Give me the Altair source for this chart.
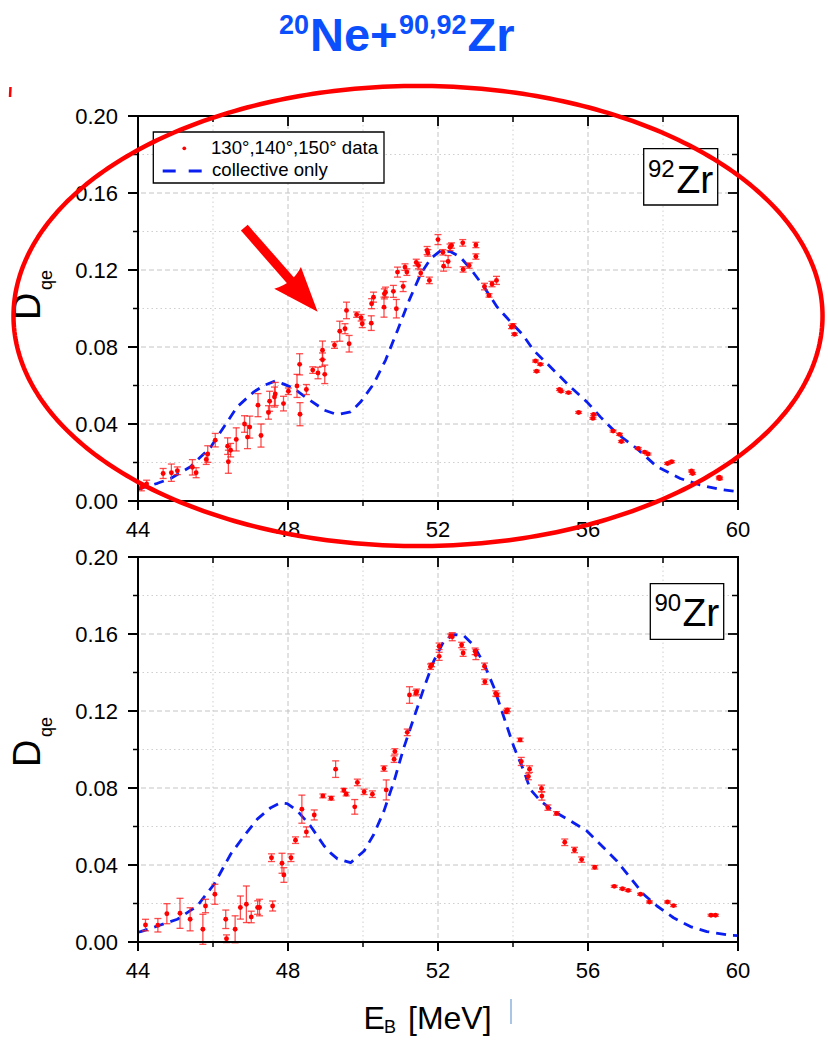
import numpy as np
import pandas as pd
import altair as alt

FONT = "Liberation Sans"
W, H = 600, 385
RED = "#ff0000"
BLUE = "#0a1ef0"
TITLE_BLUE = "#0b4ffc"

# ---------------- data: 92Zr (top panel) ----------------
top_x = [44.09, 44.23, 44.67, 44.89, 45.05, 45.45, 45.55, 45.82, 45.86, 46.06, 46.39, 46.41, 46.47, 46.62,
         46.84, 46.92, 46.98, 47.20, 47.28, 47.48, 47.51, 47.64, 47.66, 47.88, 48.01, 48.24, 48.31, 48.32,
         48.49, 48.66, 48.80, 48.92, 48.92, 48.98, 49.24, 49.38, 49.52, 49.56, 49.63, 49.83, 49.95, 49.98,
         50.22, 50.23, 50.28, 50.56, 50.57, 50.60, 50.81, 50.89, 50.92, 51.07, 51.12, 51.17, 51.42, 51.48,
         51.54, 51.71, 51.73, 51.77, 52.00, 52.13, 52.15, 52.27, 52.32, 52.36, 52.66, 52.67, 52.83, 53.01,
         53.01, 53.24, 53.36, 53.44, 53.56, 53.96, 54.00, 54.04, 54.60, 54.63, 54.73, 55.24, 55.28, 55.48,
         55.75, 56.13, 56.15, 56.67, 56.84, 56.89, 57.34, 57.51, 57.60, 58.12, 58.23, 58.76, 58.79, 59.50, 59.51]
top_y = [0.0070, 0.0088, 0.0143, 0.0147, 0.0157, 0.0175, 0.0147, 0.0216, 0.0244, 0.0316, 0.0285, 0.0204, 0.0264, 0.0320,
         0.0400, 0.0332, 0.0384, 0.0498, 0.0340, 0.0460, 0.0518, 0.0540, 0.0556, 0.0506, 0.0570, 0.0598, 0.0710, 0.0451,
         0.0579, 0.0680, 0.0665, 0.0783, 0.0734, 0.0658, 0.0810, 0.0882, 0.0895, 0.0990, 0.0817, 0.0968, 0.0952, 0.0921,
         0.0924, 0.1025, 0.1059, 0.1007, 0.1076, 0.1085, 0.1089, 0.0999, 0.1189, 0.1114, 0.1215, 0.1189, 0.1239, 0.1223,
         0.1184, 0.1301, 0.1289, 0.1146, 0.1358, 0.1292, 0.1220, 0.1244, 0.1318, 0.1327, 0.1341, 0.1203, 0.1223, 0.1330,
         0.1270, 0.1114, 0.1068, 0.1127, 0.1146, 0.0904, 0.0912, 0.0866, 0.0727, 0.0674, 0.0710, 0.0579, 0.0570, 0.0563,
         0.0460, 0.0429, 0.0449, 0.0363, 0.0346, 0.0309, 0.0273, 0.0254, 0.0244, 0.0195, 0.0204, 0.0156, 0.0143, 0.0123, 0.0116]
top_err = [0.0017, 0.0020, 0.0026, 0.0045, 0.0020, 0.0040, 0.0026, 0.0026, 0.0043, 0.0035, 0.0043, 0.0060, 0.0035, 0.0060,
           0.0043, 0.0060, 0.0057, 0.0060, 0.0060, 0.0035, 0.0052, 0.0052, 0.0060, 0.0038, 0.0017, 0.0060, 0.0055, 0.0060,
           0.0026, 0.0017, 0.0030, 0.0048, 0.0035, 0.0048, 0.0017, 0.0052, 0.0026, 0.0043, 0.0043, 0.0014, 0.0017, 0.0020,
           0.0038, 0.0026, 0.0026, 0.0052, 0.0026, 0.0026, 0.0031, 0.0048, 0.0026, 0.0026, 0.0017, 0.0017, 0.0017, 0.0017,
           0.0017, 0.0021, 0.0017, 0.0017, 0.0026, 0.0014, 0.0026, 0.0031, 0.0017, 0.0014, 0.0017, 0.0014, 0.0014, 0.0014,
           0.0014, 0.0017, 0.0009, 0.0014, 0.0021, 0.0009, 0.0009, 0.0006, 0.0005, 0.0005, 0.0005, 0.0005, 0.0005, 0.0005,
           0.0005, 0.0005, 0.0005, 0.0005, 0.0005, 0.0005, 0.0005, 0.0005, 0.0005, 0.0005, 0.0005, 0.0005, 0.0005, 0.0005, 0.0005]
top_curve_x = [44.0, 44.07, 44.52, 44.87, 45.4, 45.94, 46.29, 46.65, 47.09, 47.36, 47.67, 47.89, 48.16, 48.52, 48.97,
               49.23, 49.4, 49.67, 49.94, 50.29, 50.6, 50.92, 51.23, 51.54, 51.8, 52.07, 52.34, 52.6, 52.87, 53.23,
               53.58, 53.94, 54.25, 54.55, 55.0, 55.53, 55.97, 56.33, 56.77, 57.3, 57.84, 58.46, 58.99, 59.53, 60.0]
top_curve_y = [0.0062, 0.0066, 0.0092, 0.0117, 0.0178, 0.0280, 0.0385, 0.0490, 0.0567, 0.0600, 0.0624, 0.0607, 0.0584,
               0.0532, 0.0472, 0.0454, 0.0452, 0.0463, 0.0515, 0.0610, 0.0731, 0.0886, 0.1042, 0.1180, 0.1258, 0.1301,
               0.1295, 0.1266, 0.1206, 0.1111, 0.1007, 0.0930, 0.0866, 0.0783, 0.0696, 0.0593, 0.0515, 0.0437, 0.0351,
               0.0273, 0.0178, 0.0117, 0.0083, 0.0060, 0.0048]

# ---------------- data: 90Zr (bottom panel) ----------------
bot_x = [44.20, 44.53, 44.77, 45.12, 45.39, 45.73, 45.80, 46.05, 46.34, 46.36, 46.59, 46.73, 46.89, 47.02, 47.19,
         47.24, 47.56, 47.59, 47.84, 47.89, 48.08, 48.20, 48.37, 48.49, 48.70, 48.93, 49.15, 49.27, 49.49, 49.55,
         49.78, 49.85, 50.03, 50.25, 50.56, 50.62, 50.83, 50.85, 51.18, 51.24, 51.41, 51.43, 51.80, 51.83, 52.03,
         52.03, 52.34, 52.38, 52.63, 52.67, 52.99, 53.01, 53.24, 53.25, 53.54, 53.57, 53.82, 53.85, 54.19, 54.22,
         54.41, 54.44, 54.76, 54.77, 54.93, 55.16, 55.38, 55.64, 55.83, 56.18, 56.70, 56.92, 57.07, 57.40, 57.64,
         58.12, 58.28, 59.28, 59.40]
bot_y = [0.0088, 0.0087, 0.0147, 0.0149, 0.0118, 0.0066, 0.0187, 0.0248, 0.0118, 0.0017, 0.0066, 0.0179, 0.0196, 0.0130, 0.0179,
         0.0179, 0.0438, 0.0187, 0.0409, 0.0348, 0.0438, 0.0529, 0.0690, 0.0572, 0.0660, 0.0759, 0.0747, 0.0898, 0.0789, 0.0768,
         0.0702, 0.0829, 0.0780, 0.0768, 0.0901, 0.0790, 0.0950, 0.0990, 0.1089, 0.1283, 0.1293, 0.1300, 0.1430, 0.1439, 0.1536,
         0.1484, 0.1591, 0.1586, 0.1543, 0.1501, 0.1510, 0.1493, 0.1432, 0.1352, 0.1291, 0.1284, 0.1196, 0.1205, 0.1050, 0.0938,
         0.0860, 0.0898, 0.0798, 0.0758, 0.0698, 0.0668, 0.0518, 0.0478, 0.0428, 0.0388, 0.0289, 0.0277, 0.0268, 0.0248, 0.0208,
         0.0208, 0.0189, 0.0139, 0.0139]
bot_err = [0.0030, 0.0035, 0.0052, 0.0078, 0.0060, 0.0078, 0.0035, 0.0052, 0.0048, 0.0020, 0.0070, 0.0060, 0.0095, 0.0030, 0.0035,
           0.0043, 0.0020, 0.0026, 0.0052, 0.0038, 0.0020, 0.0017, 0.0073, 0.0026, 0.0026, 0.0010, 0.0010, 0.0043, 0.0009, 0.0009,
           0.0038, 0.0017, 0.0014, 0.0017, 0.0014, 0.0052, 0.0017, 0.0014, 0.0017, 0.0043, 0.0014, 0.0014, 0.0014, 0.0009, 0.0017,
           0.0021, 0.0009, 0.0021, 0.0014, 0.0017, 0.0017, 0.0026, 0.0017, 0.0014, 0.0014, 0.0009, 0.0009, 0.0009, 0.0009, 0.0021,
           0.0017, 0.0017, 0.0017, 0.0021, 0.0014, 0.0009, 0.0017, 0.0014, 0.0014, 0.0009, 0.0005, 0.0005, 0.0005, 0.0005, 0.0005,
           0.0005, 0.0005, 0.0005, 0.0005]
bot_curve_x = [44.0, 44.07, 44.52, 45.05, 45.58, 46.03, 46.47, 46.83, 47.18, 47.54, 47.8, 47.98, 48.25, 48.6, 48.96,
               49.14, 49.32, 49.67, 50.03, 50.29, 50.56, 50.83, 51.09, 51.36, 51.63, 51.89, 52.16, 52.43, 52.69, 52.96,
               53.23, 53.49, 53.76, 54.03, 54.29, 54.46, 54.73, 55.08, 55.53, 55.97, 56.42, 56.77, 57.13, 57.48, 57.84,
               58.28, 58.73, 59.17, 59.8, 60.0]
bot_curve_y = [0.0052, 0.0054, 0.0083, 0.0118, 0.0187, 0.0300, 0.0456, 0.0551, 0.0638, 0.0698, 0.0723, 0.0719, 0.0681,
               0.0603, 0.0500, 0.0462, 0.0432, 0.0412, 0.0473, 0.0560, 0.0681, 0.0837, 0.1010, 0.1166, 0.1323, 0.1461,
               0.1565, 0.1597, 0.1591, 0.1539, 0.1444, 0.1323, 0.1166, 0.1010, 0.0889, 0.0793, 0.0733, 0.0680, 0.0629,
               0.0577, 0.0490, 0.0421, 0.0334, 0.0248, 0.0187, 0.0126, 0.0080, 0.0054, 0.0035, 0.0033]

# ticks / grid
X_MAJOR = [44, 48, 52, 56, 60]
X_LABELS = ["44", "48", "52", "56", "60"]
X_MINOR = [46, 50, 54, 58]
Y_MAJOR = [0.0, 0.04, 0.08, 0.12, 0.16, 0.20]
Y_LABELS = ["0.00", "0.04", "0.08", "0.12", "0.16", "0.20"]
Y_MINOR = [0.02, 0.06, 0.10, 0.14, 0.18]

# annotations (data units)
ELLIPSE_CENTER = (51.467, 0.0961)
ELLIPSE_RADII = (10.787, 0.1195)
ARROW_SHAFT_X = [46.835, 48.08]
ARROW_SHAFT_Y = [0.1420, 0.1143]
ARROW_TIP = (48.79, 0.0983)

xs = alt.Scale(domain=[44, 60], nice=False, zero=False)
ys = alt.Scale(domain=[0, 0.2], nice=False, zero=False)


def XQ(field="x"):
    return alt.X(f"{field}:Q", scale=xs, axis=None)


def YQ(field="y"):
    return alt.Y(f"{field}:Q", scale=ys, axis=None)


def one():
    return pd.DataFrame({"a": [0]})


def txt(s, x, y, size, color="black", weight="normal", angle=0, align="left"):
    return alt.Chart(one()).mark_text(
        text=s, font=FONT, fontSize=size, color=color, fontWeight=weight,
        angle=angle, align=align, baseline="alphabetic"
    ).encode(x=alt.value(x), y=alt.value(y))


def rule_px(x1, y1, x2, y2, color, width, dash=None):
    kw = dict(color=color, strokeWidth=width)
    if dash is not None:
        kw["strokeDash"] = dash
    return alt.Chart(one()).mark_rule(**kw).encode(
        x=alt.value(x1), x2=alt.value(x2), y=alt.value(y1), y2=alt.value(y2))


def rect_px(x1, y1, x2, y2, sw=1.3, fill="white", fill_opacity=1.0):
    return alt.Chart(one()).mark_rect(
        fill=fill, fillOpacity=fill_opacity, stroke="black", strokeWidth=sw
    ).encode(x=alt.value(x1), x2=alt.value(x2), y=alt.value(y1), y2=alt.value(y2))


def panel(px, py, pe, cx, cy, extras):
    layers = []
    # grid
    layers.append(alt.Chart(pd.DataFrame({"x": X_MINOR})).mark_rule(
        color="#cfcfcf", strokeWidth=1, strokeDash=[1.5, 3]).encode(x=XQ()))
    layers.append(alt.Chart(pd.DataFrame({"x": X_MAJOR[1:-1]})).mark_rule(
        color="#c4c4c4", strokeWidth=1, strokeDash=[5, 3]).encode(x=XQ()))
    layers.append(alt.Chart(pd.DataFrame({"y": Y_MINOR})).mark_rule(
        color="#cfcfcf", strokeWidth=1, strokeDash=[1.5, 3]).encode(y=YQ()))
    layers.append(alt.Chart(pd.DataFrame({"y": Y_MAJOR[1:-1]})).mark_rule(
        color="#c4c4c4", strokeWidth=1, strokeDash=[5, 3]).encode(y=YQ()))
    # tick labels (through the scales)
    layers.append(alt.Chart(pd.DataFrame({"x": X_MAJOR, "t": X_LABELS})).mark_text(
        font=FONT, fontSize=22, color="black", align="center", baseline="alphabetic").encode(
        x=XQ(), y=alt.value(H + 36), text="t:N"))
    layers.append(alt.Chart(pd.DataFrame({"y": Y_MAJOR, "t": Y_LABELS})).mark_text(
        font=FONT, fontSize=22, color="black", align="right", baseline="alphabetic", dy=7.8).encode(
        y=YQ(), x=alt.value(-20), text="t:N"))
    # outward ticks (left, bottom)
    layers.append(alt.Chart(pd.DataFrame({"y": Y_MAJOR})).mark_rule(color="black", strokeWidth=2).encode(
        y=YQ(), x=alt.value(-10), x2=alt.value(0)))
    layers.append(alt.Chart(pd.DataFrame({"y": Y_MINOR})).mark_rule(color="black", strokeWidth=1.5).encode(
        y=YQ(), x=alt.value(-5), x2=alt.value(0)))
    layers.append(alt.Chart(pd.DataFrame({"x": X_MAJOR})).mark_rule(color="black", strokeWidth=2).encode(
        x=XQ(), y=alt.value(H), y2=alt.value(H + 9)))
    layers.append(alt.Chart(pd.DataFrame({"x": X_MINOR})).mark_rule(color="black", strokeWidth=1.5).encode(
        x=XQ(), y=alt.value(H), y2=alt.value(H + 5)))
    # inward ticks (right, top)
    layers.append(alt.Chart(pd.DataFrame({"y": Y_MAJOR})).mark_rule(color="black", strokeWidth=1.8).encode(
        y=YQ(), x=alt.value(W - 10), x2=alt.value(W)))
    layers.append(alt.Chart(pd.DataFrame({"y": Y_MINOR})).mark_rule(color="black", strokeWidth=1.5).encode(
        y=YQ(), x=alt.value(W - 6), x2=alt.value(W)))
    layers.append(alt.Chart(pd.DataFrame({"x": X_MAJOR})).mark_rule(color="black", strokeWidth=1.8).encode(
        x=XQ(), y=alt.value(0), y2=alt.value(10)))
    layers.append(alt.Chart(pd.DataFrame({"x": X_MINOR})).mark_rule(color="black", strokeWidth=1.5).encode(
        x=XQ(), y=alt.value(0), y2=alt.value(6)))
    # collective only curve
    layers.append(alt.Chart(pd.DataFrame({"x": cx, "y": cy})).mark_line(
        color=BLUE, strokeWidth=2.8, strokeDash=[10, 7], strokeJoin="round").encode(x=XQ(), y=YQ()))
    # data with error bars
    d = pd.DataFrame({"x": px, "y": py, "e": pe})
    d["lo"] = d["y"] - d["e"]
    d["hi"] = d["y"] + d["e"]
    caps = pd.concat([pd.DataFrame({"x": d["x"], "c": d["lo"]}), pd.DataFrame({"x": d["x"], "c": d["hi"]})])
    layers.append(alt.Chart(d).mark_rule(color="#ff2020", strokeWidth=1.3, opacity=0.8).encode(
        x=XQ(), y=YQ("lo"), y2="hi:Q"))
    layers.append(alt.Chart(caps).mark_tick(orient="horizontal", size=7, thickness=1.3,
                                            color="#ff2020", opacity=0.8).encode(x=XQ(), y=YQ("c")))
    layers.append(alt.Chart(d).mark_circle(size=24, color=RED, opacity=1).encode(x=XQ(), y=YQ()))
    # frame
    layers.append(rect_px(0, 0, W, H, sw=2, fill="white", fill_opacity=0))
    layers.extend(extras)
    return alt.layer(*layers).properties(width=W, height=H)


# ---------- top panel extras ----------
t = np.linspace(0, 2 * np.pi, 361)
ell = pd.DataFrame({
    "x": ELLIPSE_CENTER[0] + ELLIPSE_RADII[0] * np.cos(t),
    "y": ELLIPSE_CENTER[1] + ELLIPSE_RADII[1] * np.sin(t),
    "i": np.arange(len(t)),
})
arrow_head = "M0,0 L-0.868,-0.46 Q-0.5,-0.56 -0.334,-0.894 Z"

top_extras = [
    # anchor: fixes page origin
    rule_px(-137, -115, -137, -114, "white", 0.01),
    # legend
    rect_px(15.3, 16, 246, 67, sw=1.3),
    alt.Chart(one()).mark_circle(size=14, color=RED, opacity=1).encode(x=alt.value(46.3), y=alt.value(32.3)),
    rule_px(24.7, 55, 66.3, 55, BLUE, 3, dash=[13, 13]),
    txt("130°,140°,150° data", 73, 38.3, 18.6),
    txt("collective only", 74, 60, 18.6),
    # 92Zr label
    rect_px(505.7, 32.7, 579.7, 89, sw=1.3),
    txt("92", 510, 61, 24),
    txt("Zr", 538.5, 77, 39),
    # y title
    txt("D", -98, 204, 38, angle=270),
    txt("qe", -86, 174, 18, angle=270),
    # title
    txt("20", 141, -82, 27, color=TITLE_BLUE, weight="bold"),
    txt("Ne+", 172, -65, 47, color=TITLE_BLUE, weight="bold"),
    txt("90,92", 261, -82, 27, color=TITLE_BLUE, weight="bold"),
    txt("Zr", 329.5, -65, 47, color=TITLE_BLUE, weight="bold"),
    # stray red mark at top-left
    rule_px(-127.5, -29, -128, -19, RED, 2.5),
    # ellipse
    alt.Chart(ell).mark_line(color=RED, strokeWidth=4.5, strokeJoin="round", clip=False).encode(
        x=XQ(), y=YQ(), order="i:Q"),
    # arrow
    alt.Chart(pd.DataFrame({"x": ARROW_SHAFT_X, "y": ARROW_SHAFT_Y})).mark_line(
        color=RED, strokeWidth=9, strokeCap="butt", strokeJoin="round", clip=False).encode(x=XQ(), y=YQ()),
    alt.Chart(pd.DataFrame({"x": [ARROW_TIP[0]], "y": [ARROW_TIP[1]]})).mark_point(
        shape=arrow_head, size=10000, filled=True, fill=RED, strokeWidth=0, opacity=1, clip=False).encode(
        x=XQ(), y=YQ()),
]

bot_extras = [
    rect_px(512.3, 26.7, 585.7, 82.3, sw=1.3),
    txt("90", 516.5, 54, 24),
    txt("Zr", 544.5, 69, 39),
    txt("D", -98, 210, 38, angle=270),
    txt("qe", -86, 180, 18, angle=270),
    txt("E", 225.5, 472, 32),
    txt("B", 246, 476, 18),
    txt("[MeV]", 270, 472, 32),
    rule_px(373, 442, 373, 467, "#8fb3db", 1.5),
]

top = panel(top_x, top_y, top_err, top_curve_x, top_curve_y, top_extras)
bottom = panel(bot_x, bot_y, bot_err, bot_curve_x, bot_curve_y, bot_extras)

chart = alt.vconcat(top, bottom, spacing=56, bounds="flush").properties(
    padding=0, background="white"
).configure_view(strokeWidth=0).configure(font=FONT)

chart.save("out.html", embed_options={"renderer": "svg", "actions": False})
